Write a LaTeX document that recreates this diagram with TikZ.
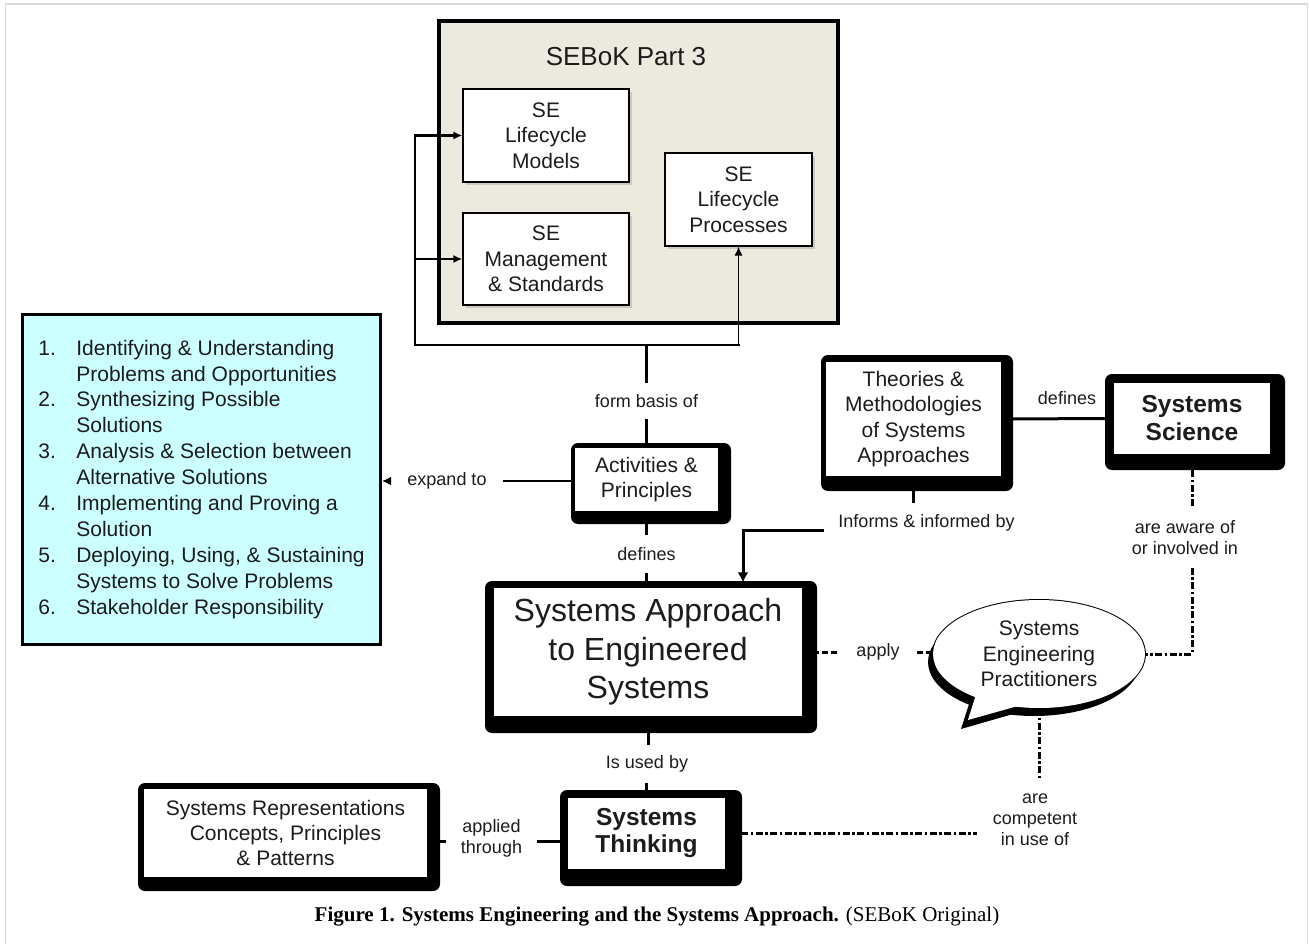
\documentclass[tikz,border=0pt]{standalone}
\usepackage{fontspec}
\setmainfont{Liberation Sans}
\newfontfamily\capfont{Liberation Serif}
\usetikzlibrary{arrows.meta,shapes.geometric,shadows,calc}
\definecolor{txt}{RGB}{28,28,28}
\definecolor{beige}{RGB}{236,233,223}
\definecolor{cyanfill}{RGB}{204,255,255}
\definecolor{framegrey}{RGB}{218,218,218}
\newcommand\setfs[2]{\fontsize{#1}{#2}\selectfont}
\begin{document}
\begin{tikzpicture}[x=1pt,y=-1pt,
  boxtext/.style={text=txt, align=center, font=\setfs{21}{25.5}},
  whitebox/.style={draw=black, line width=1.2pt, fill=white, inner sep=0pt, boxtext},
  softshadow/.style={drop shadow={shadow xshift=2.5pt, shadow yshift=-3pt, opacity=.3}},
  heavy/.style={fill=black, rounded corners=7pt},
  lbl/.style={text=txt, font=\setfs{18}{21}, align=center, inner sep=0pt},
  conn/.style={draw=black, line width=3pt},
  arr/.style={-{Latex[length=9pt,width=8pt]}},
  dashconn/.style={draw=black, line width=3pt, dash pattern=on 6pt off 3pt},
  dotdash/.style={draw=black, line width=3pt, dash pattern=on 7pt off 2.5pt on 2.5pt off 2.5pt},
]
\useasboundingbox (0,0) rectangle (1309,944);
% page frame
\draw[framegrey, line width=1.5pt] (5.5,960) -- (5.5,4) -- (1307.7,4) -- (1307.7,960);

% ---------- SEBoK Part 3 block ----------
\node[draw=black, line width=4pt, fill=beige, minimum width=399pt, minimum height=302pt, inner sep=0pt] (sebok) at (638.5,172) {};
\node[text=txt, font=\setfs{26}{30}, inner sep=0pt] (title) at (626,57) {SEBoK Part 3};
\node[whitebox, softshadow, minimum width=166pt, minimum height=93pt] (lm) at (546,135.5) {SE\\Lifecycle\\Models};
\node[whitebox, softshadow, minimum width=166pt, minimum height=92pt] (ms) at (546,259) {SE\\Management\\\& Standards};
\node[whitebox, softshadow, minimum width=147pt, minimum height=93pt] (proc) at (738.5,199.5) {SE\\Lifecycle\\Processes};

% ---------- list ----------
\node[draw=black, line width=3pt, fill=cyanfill, inner sep=0pt, minimum width=358pt, minimum height=330pt,
      text=txt, font=\setfs{21}{25.9}] (list) at (201.5,479.5) {%
  \begin{tabular}{@{}l@{}l@{}}
  \makebox[38pt][l]{1.} & Identifying \& Understanding\\
   & Problems and Opportunities\\
  \makebox[38pt][l]{2.} & Synthesizing Possible\\
   & Solutions\\
  \makebox[38pt][l]{3.} & Analysis \& Selection between\\
   & Alternative Solutions\\
  \makebox[38pt][l]{4.} & Implementing and Proving a\\
   & Solution\\
  \makebox[38pt][l]{5.} & Deploying, Using, \& Sustaining\\
   & Systems to Solve Problems\\
  \makebox[38pt][l]{6.} & Stakeholder Responsibility
  \end{tabular}};

% ---------- heavy boxes ----------
\fill[heavy] (571,443) rectangle (731,524);
\node[whitebox, minimum width=145pt, minimum height=65pt] (act) at (646.5,479.5) {Activities \&\\Principles};

\fill[heavy] (485,581) rectangle (817,733);
\node[whitebox, font=\setfs{32}{38.5}, minimum width=310pt, minimum height=130pt] (sa) at (648,652) {Systems Approach\\to Engineered\\Systems};

\fill[heavy] (821,355) rectangle (1013,491);
\node[whitebox, font=\setfs{21}{25.3}, minimum width=177pt, minimum height=116pt] (th) at (913.5,419) {Theories \&\\Methodologies\\of Systems\\Approaches};

\fill[heavy] (1105,374) rectangle (1285,470);
\node[whitebox, font=\bfseries\setfs{24.5}{28}, minimum width=158pt, minimum height=73pt] (ss) at (1192,418.5) {Systems\\Science};

\fill[heavy] (560,790) rectangle (742,886);
\node[whitebox, font=\bfseries\setfs{24.5}{27}, minimum width=159pt, minimum height=73pt] (st) at (646.5,833.5) {Systems\\Thinking};

\fill[heavy] (138,783) rectangle (440,891);
\node[whitebox, font=\setfs{21}{25}, minimum width=285pt, minimum height=90pt] (sr) at (285.5,833) {Systems Representations\\Concepts, Principles\\\& Patterns};

% ---------- speech bubble ----------
\fill[black] (1034,662) ellipse [x radius=106pt, y radius=54pt];
\fill[black] (971,698) -- (961,729) -- (1020,712) -- cycle;
\draw[black, line width=2pt] (1039,654) ellipse [x radius=106pt, y radius=54pt];
\draw[black, line width=2pt, line join=round] (977,691) -- (968,720) -- (1025,704);
\fill[white] (1039,654) ellipse [x radius=106pt, y radius=54pt];
\fill[white] (977,691) -- (968,720) -- (1025,704) -- cycle;
\node[ellipse, minimum width=212pt, minimum height=108pt, inner sep=0pt, boxtext] (sep) at (1039,654) {Systems\\Engineering\\Practitioners};

% ---------- labels ----------
\node[lbl, inner ysep=11pt] (fb) at (646.5,401) {form basis of};
\node[lbl, inner ysep=12pt] (def1) at (646.5,554) {defines};
\node[lbl, inner ysep=10pt] (iub) at (647,764) {Is used by};
\node[lbl, inner xsep=16pt] (exp) at (447,481) {expand to};
\node[lbl, inner xsep=14pt, inner ysep=11.5pt] (inf) at (926.5,523) {Informs \& informed by};
\node[lbl] (def2) at (1067,398) {defines};
\node[lbl, inner ysep=12.5pt] (aw) at (1185,538) {are aware of\\or involved in};
\node[lbl, inner xsep=17.5pt] (ap) at (878,652) {apply};
\node[lbl, inner xsep=15.5pt, inner ysep=16pt] (comp) at (1035,820) {are\\competent\\in use of};
\node[lbl, inner xsep=14.5pt] (apt) at (491.5,838.5) {applied\\through};

% ---------- caption ----------
\node[font=\capfont\setfs{21}{25}, inner sep=0pt] (cap) at (657,917) {\textbf{Figure 1. Systems Engineering and the Systems Approach.} (SEBoK Original)};

% ---------- connectors ----------
\coordinate (cL) at (415,345);
\coordinate (cR) at (proc.south |- cL);
\coordinate (cM) at (act.north |- cL);
\draw[conn, line width=2.5pt, arr] (cL) |- (lm.west);
\draw[conn, line width=2.5pt, arr] (cL) |- (ms.west);
\draw[conn, line width=2.5pt, line cap=rect] (cL) -- (cR);
\draw[line width=1.2pt, -{Latex[length=9pt,width=8pt]}] (cR) -- (proc.south);
\draw[conn] (cM) -- (fb.north);
\draw[conn] (fb.south) -- (act.north);

\draw[conn] (act.south) -- (def1.north);
\draw[conn] (def1.south) -- (def1.south |- sa.north);
\draw[conn] (sa.south) -- (sa.south |- iub.north);
\draw[conn] (st.north |- iub.south) -- (st.north);

\draw[conn, line width=2.5pt] (exp.east -| act.west) -- (exp.east);
\draw[conn, line width=2.5pt, -{Latex[length=9pt,width=9pt]}] (exp.west) -- (exp.west -| list.east);

\draw[conn] (th.south) -- (th.south |- inf.north);
\draw[conn, -{Latex[length=10pt,width=11pt]}, shorten >=4pt] ([yshift=-7pt]inf.west) -| ($(sa.north)+(95,0)$);
\draw[conn] (th.east) -- (ss.west);

\draw[dotdash] (ss.south) -- (ss.south |- aw.north);
\draw[dotdash] (ss.south |- aw.south) |- (sep.east);
\draw[dashconn] (sa.east) -- (ap.west);
\draw[dashconn] (ap.east) -- (ap.east -| sep.west);
\draw[dotdash] (sep.south) -- (sep.south |- comp.north);
\draw[dotdash] (st.east) -- (st.east -| comp.west);

\draw[conn] ([yshift=-8.5pt]sr.east) -- ([yshift=-8.5pt]sr.east -| apt.west);
\draw[conn] ([yshift=-8.5pt]sr.east -| apt.east) -- ([yshift=-8.5pt]sr.east -| st.west);
\end{tikzpicture}
\end{document}
